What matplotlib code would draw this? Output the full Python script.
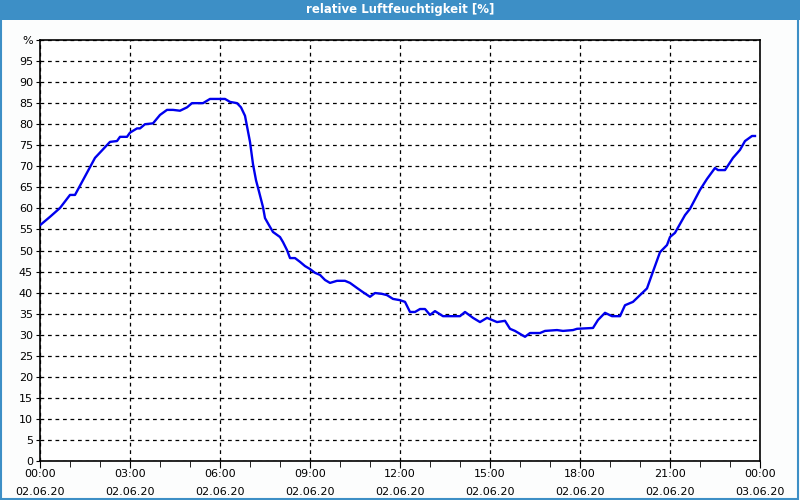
import matplotlib
matplotlib.use("Agg")
import matplotlib.pyplot as plt
import matplotlib.dates as mdates
import pandas as pd
from matplotlib.patches import Rectangle

# Messwerte: Minuten seit 02.06.20 00:00 und relative Feuchte in %
minutes = [0, 20, 40, 60, 70, 100, 110, 140, 154, 160, 174, 180, 194, 200, 210, 226,
           240, 254, 266, 280, 294, 304, 326, 340, 370, 380, 394, 402, 410, 420, 426,
           432, 438, 446, 450, 460, 466, 480, 486, 494, 500, 510, 520, 530, 540, 550,
           560, 570, 580, 594, 610, 620, 634, 646, 660, 670, 684, 694, 706, 720, 730,
           740, 750, 760, 770, 780, 790, 806, 840, 850, 866, 880, 894, 900, 914, 930,
           940, 950, 960, 970, 980, 1000, 1010, 1034, 1046, 1066, 1074, 1106, 1116,
           1130, 1144, 1160, 1170, 1186, 1200, 1214, 1226, 1240, 1254, 1260, 1270,
           1290, 1300, 1320, 1334, 1350, 1356, 1370, 1386, 1400, 1410, 1424, 1430]
humidity = [56.0, 58.0, 60.1, 63.2, 63.2, 69.8, 72.0, 75.8, 76.0, 77.0, 77.0, 78.0, 79.0,
            79.0, 80.0, 80.2, 82.2, 83.4, 83.4, 83.2, 84.0, 85.0, 85.0, 86.0, 86.0, 85.3,
            85.0, 84.0, 82.0, 75.8, 70.5, 66.7, 64.0, 60.3, 57.7, 55.6, 54.4, 53.2, 52.0,
            50.1, 48.2, 48.2, 47.3, 46.3, 45.6, 44.7, 44.2, 43.0, 42.3, 42.8, 42.8, 42.3,
            41.1, 40.1, 39.0, 39.9, 39.7, 39.4, 38.5, 38.2, 37.8, 35.4, 35.4, 36.1, 36.1,
            34.7, 35.6, 34.4, 34.4, 35.4, 34.0, 33.0, 34.0, 33.7, 33.0, 33.3, 31.4, 30.9,
            30.2, 29.5, 30.4, 30.4, 30.9, 31.1, 30.9, 31.1, 31.4, 31.6, 33.5, 35.2, 34.4,
            34.4, 37.0, 37.8, 39.4, 41.0, 45.0, 49.6, 51.3, 53.2, 54.2, 58.4, 59.9, 64.4,
            67.0, 69.6, 69.1, 69.1, 72.0, 73.9, 76.0, 77.2, 77.2]
y_ticks = list(range(0, 100, 5))
title = "relative Luftfeuchtigkeit [%]"

start = pd.Timestamp("2020-06-02 00:00")
times = start + pd.to_timedelta(minutes, unit="min")
x_ticks = pd.date_range(start, periods=9, freq="3h")
x_labels = [t.strftime("%H:%M") + "\n" + t.strftime("%d.%m.%y") for t in x_ticks]

fig = plt.figure(figsize=(8, 5), dpi=100, facecolor="#fcfdfd")
# Titelleiste und Rahmen
fig.patches.append(Rectangle((0, 0.96), 1, 0.04, transform=fig.transFigure,
                             facecolor="#3d8fc6", edgecolor="none", zorder=0))
fig.patches.append(Rectangle((0.001, 0.002), 0.997, 0.997, transform=fig.transFigure,
                             facecolor="none", edgecolor="#3d8fc6", linewidth=1.5, zorder=1))
fig.text(0.5, 0.98, title, color="white", fontweight="bold", fontsize=8.5,
         ha="center", va="center")

ax = fig.add_axes([0.05, 0.078, 0.9, 0.842])
ax.set_facecolor("white")
ax.plot(times, humidity, color="#0000ee", linewidth=1.7, zorder=3)

ax.set_xlim(x_ticks[0], x_ticks[-1])
ax.set_ylim(0, 100)
ax.set_yticks(y_ticks + [100])
ax.set_yticklabels([str(v) for v in y_ticks] + ["%"])
ax.set_xticks(x_ticks)
ax.set_xticklabels(x_labels, linespacing=2.0)
ax.xaxis.set_minor_locator(mdates.HourLocator())
ax.tick_params(axis="both", labelsize=8, colors="black", direction="out")
ax.tick_params(axis="x", which="major", length=5, pad=1)
ax.tick_params(axis="x", which="minor", length=4)
ax.tick_params(axis="y", length=3, pad=2)
ax.grid(True, which="major", color="black", linestyle=(0, (3, 3)), linewidth=0.9)
for s in ax.spines.values():
    s.set_linewidth(1.2)

fig.savefig("out.png", dpi=100, facecolor=fig.get_facecolor())
